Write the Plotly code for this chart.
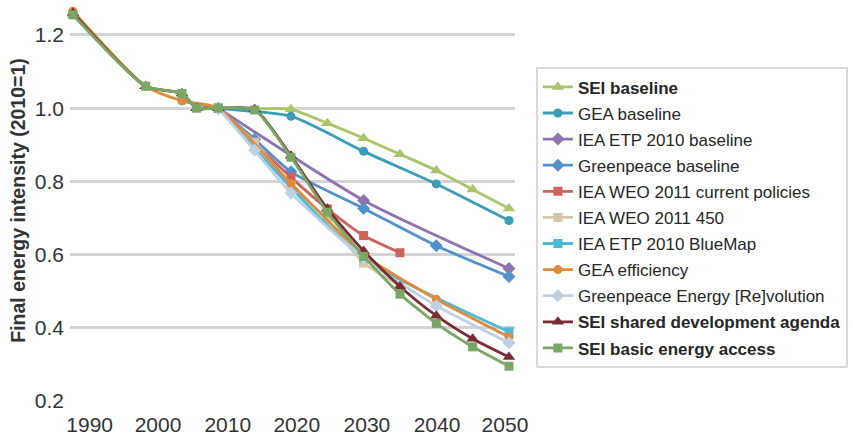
import plotly.graph_objects as go

# ---- data ----
names = [
    "<b>SEI baseline</b>", "GEA baseline", "IEA ETP 2010 baseline", "Greenpeace baseline",
    "IEA WEO 2011 current policies", "IEA WEO 2011 450", "IEA ETP 2010 BlueMap",
    "GEA efficiency", "Greenpeace Energy [Re]volution",
    "<b>SEI shared development agenda</b>", "<b>SEI basic energy access</b>",
]

sei_base_x = [1990, 2000, 2005, 2007, 2010, 2015, 2020, 2025, 2030, 2035, 2040, 2045, 2050]
sei_base_y = [1.255, 1.06, 1.04, 1.0, 1.0, 0.998, 0.997, 0.959, 0.918, 0.874, 0.830, 0.778, 0.726]

gea_base_x = [2005, 2010, 2020, 2030, 2040, 2050]
gea_base_y = [1.02, 1.0, 0.978, 0.882, 0.793, 0.693]

etp_base_x = [2010, 2030, 2050]
etp_base_y = [1.0, 0.748, 0.562]

gp_base_x = [2010, 2015, 2020, 2030, 2040, 2050]
gp_base_y = [1.0, 0.915, 0.826, 0.726, 0.624, 0.540]

weo_cp_x = [2010, 2015, 2020, 2025, 2030, 2035]
weo_cp_y = [1.0, 0.905, 0.811, 0.725, 0.652, 0.605]

weo_450_x = [2010, 2015, 2020, 2025, 2030, 2035]
weo_450_y = [1.0, 0.907, 0.79, 0.695, 0.577, 0.515]

etp_blue_x = [2010, 2030, 2050]
etp_blue_y = [1.0, 0.59, 0.389]

gea_eff_x = [1990, 2000, 2005, 2010, 2020, 2030, 2040, 2050]
gea_eff_y = [1.265, 1.06, 1.02, 1.0, 0.794, 0.60, 0.478, 0.375]

gp_rev_x = [2010, 2015, 2020, 2030, 2040, 2050]
gp_rev_y = [1.0, 0.885, 0.768, 0.59, 0.460, 0.359]

sei_sda_x = [1990, 2000, 2005, 2007, 2010, 2015, 2020, 2025, 2030, 2035, 2040, 2045, 2050]
sei_sda_y = [1.26, 1.06, 1.04, 1.0, 1.0, 0.997, 0.870, 0.725, 0.610, 0.513, 0.433, 0.370, 0.320]

sei_bea_x = [1990, 2000, 2005, 2007, 2010, 2015, 2020, 2025, 2030, 2035, 2040, 2045, 2050]
sei_bea_y = [1.255, 1.06, 1.04, 1.0, 1.0, 0.995, 0.866, 0.716, 0.595, 0.492, 0.412, 0.348, 0.295]

x_tick_labels = ["1990", "2000", "2010", "2020", "2030", "2040", "2050"]
y_tick_vals = [0.2, 0.4, 0.6, 0.8, 1.0, 1.2]

# ---- styles ----
xs = [sei_base_x, gea_base_x, etp_base_x, gp_base_x, weo_cp_x, weo_450_x, etp_blue_x,
      gea_eff_x, gp_rev_x, sei_sda_x, sei_bea_x]
ys = [sei_base_y, gea_base_y, etp_base_y, gp_base_y, weo_cp_y, weo_450_y, etp_blue_y,
      gea_eff_y, gp_rev_y, sei_sda_y, sei_bea_y]
colors = ["#A8C56A", "#3A9EB7", "#8E73AE", "#5490CB", "#D0625B", "#D3C7A5", "#4BBAD4",
          "#E08A3E", "#BCD0E6", "#7B2C33", "#79A866"]
symbols = ["triangle-up", "circle", "diamond", "diamond", "square", "square", "square",
           "circle", "diamond", "triangle-up", "square"]
sizes = [11, 9, 10, 10, 9, 9, 9, 9, 10, 11, 9]

fig = go.Figure()
for i in range(len(names)):
    fig.add_trace(go.Scatter(
        x=xs[i], y=ys[i], name=names[i], mode="lines+markers",
        line=dict(color=colors[i], width=2.8, shape="spline", smoothing=0.6),
        marker=dict(symbol=symbols[i], size=sizes[i], color=colors[i]),
        legendgroup="g%d" % i, cliponaxis=False,
    ))

# tick label positions (label placement in the original is offset from data years)
tick_pos = [1992.3, 2001.7, 2011.3, 2020.8, 2030.45, 2040.1, 2049.45]

fig.update_layout(
    width=853, height=439,
    margin=dict(l=70, r=338, t=0, b=38, autoexpand=False),
    paper_bgcolor="white", plot_bgcolor="white",
    font=dict(family="Liberation Sans, Arial, sans-serif", color="#333333"),
    showlegend=True,
    legend=dict(
        x=1.047, xanchor="left", y=0.832, yanchor="top",
        bordercolor="#D9D9D9", borderwidth=2,
        font=dict(size=17, color="#262626"),
        tracegroupgap=1.0, itemwidth=30,
    ),
    xaxis=dict(
        range=[1989.59, 2050.83], showgrid=False, zeroline=False, showline=False,
        tickmode="array", tickvals=tick_pos, ticktext=x_tick_labels,
        tickfont=dict(size=21, color="#333333"), ticks="", automargin=False,
        ticklabelstandoff=9,
    ),
    yaxis=dict(
        range=[0.2, 1.2955], showgrid=True, gridcolor="#D4D4D4", gridwidth=2.5,
        zeroline=False, showline=False, tickmode="array", tickvals=y_tick_vals,
        tickformat=".1f", tickfont=dict(size=21, color="#333333"), ticks="",
        automargin=True, ticklabelstandoff=5,
        title=dict(text="<b>Final energy intensity (2010=1)</b>",
                   font=dict(size=19.5, color="#333333"), standoff=3),
    ),
)

fig.write_html("out.html", config={"displayModeBar": False},
               post_script="document.body.style.margin='0';")
